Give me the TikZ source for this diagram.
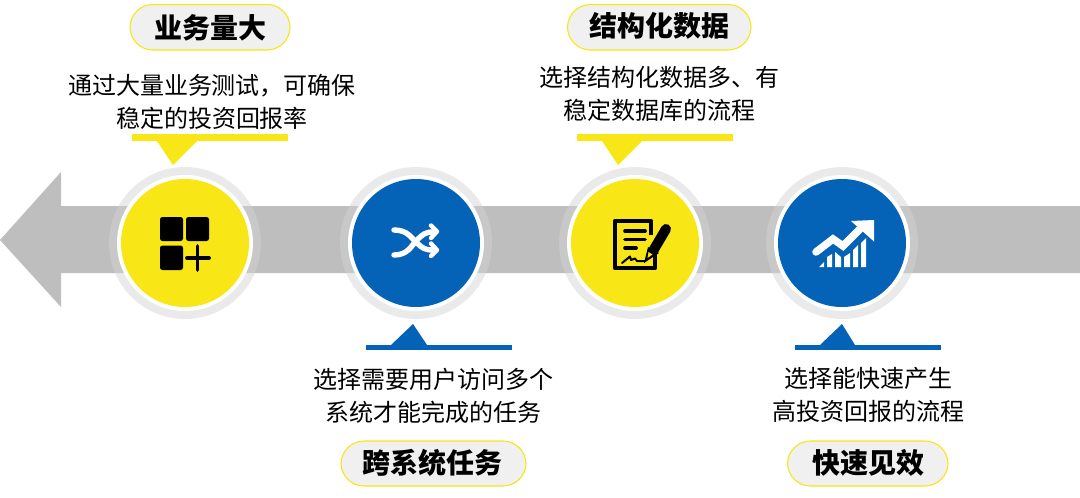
\documentclass[tikz,border=0pt]{standalone}
\usepackage{fontspec}
\setmainfont{Noto Sans CJK SC}
\usetikzlibrary{calc}
\definecolor{yel}{HTML}{F8E616}
\definecolor{blu}{HTML}{0563B7}
\definecolor{gry}{HTML}{BEBEBE}
\definecolor{rng}{HTML}{D4D4D4}
\definecolor{pil}{HTML}{F0F0F0}
\tikzset{
  x=1pt,y=-1pt,
  ringdisc/.style={circle,draw=none,fill=rng,fill opacity=0.48,minimum size=152pt,inner sep=0pt},
  whitedisc/.style={circle,draw=none,fill=white,minimum size=136pt,inner sep=0pt},
  yeldisc/.style={circle,draw=none,fill=yel,minimum size=128pt,inner sep=0pt},
  bludisc/.style={circle,draw=none,fill=blu,minimum size=128pt,inner sep=0pt},
  pill/.style={rounded corners=23pt,draw=yel,line width=1.1pt,fill=pil},
  titletext/.style={font=\fontsize{28}{30}\selectfont\bfseries,text=black,inner sep=0pt},
  bodytext/.style={font=\fontsize{24}{33}\selectfont,text=black,inner sep=0pt,align=center},
  wline/.style={draw=white,line width=5.4pt,line cap=round},
  whead/.style={draw=white,line width=4.4pt,line cap=round,line join=round},
  bline/.style={draw=black,line width=3.7pt,line cap=round}
}
\begin{document}
\begin{tikzpicture}
\useasboundingbox (0,0) rectangle (1080,498);
% big arrow
\fill[gry] (0,240) -- (61,172) -- (61,206) -- (1080,206) -- (1080,273) -- (61,273) -- (61,307) -- cycle;
% discs
\foreach \n/\cx/\st in {a/185/yeldisc,b/416/bludisc,c/635/yeldisc,d/842/bludisc}{
  \node[ringdisc] (r\n) at (\cx,243) {};
  \node[whitedisc] (w\n) at (\cx,243) {};
  \node[\st] (d\n) at (\cx,243) {};
}
% callouts
\fill[yel] (132,134) rectangle (288,141);
\fill[yel] (157,141) -- (197,141) -- (173,165) -- cycle;
\fill[yel] (577,134) rectangle (733,141);
\fill[yel] (602,141) -- (642,141) -- (618,165) -- cycle;
\fill[blu] (366,345) rectangle (512,349.5);
\fill[blu] (391,345) -- (427,345) -- (413,324) -- cycle;
\fill[blu] (795,345) rectangle (941,349.5);
\fill[blu] (820,345) -- (855,345) -- (842,324) -- cycle;
% pills
\draw[pill] (130,4.5) rectangle (290,50);
\draw[pill] (341,441) rectangle (526,486);
\draw[pill] (567.5,4.5) rectangle (751,50);
\draw[pill] (787.5,441) rectangle (948,486);
\node[titletext] (t1) at (210,27.5) {业务量大};
\node[titletext] (t2) at (432,462.5) {跨系统任务};
\node[titletext] (t3) at (659.5,26) {结构化数据};
\node[titletext] (t4) at (868,462.5) {快速见效};
% body text
\node[bodytext] (b1) at (212,102) {通过大量业务测试，可确保\\稳定的投资回报率};
\node[bodytext] (b2) at (433,396) {选择需要用户访问多个\\系统才能完成的任务};
\node[bodytext] (b3) at (659,94) {选择结构化数据多、有\\稳定数据库的流程};
\node[bodytext] (b4) at (868,395) {选择能快速产生\\高投资回报的流程};
% icon 1
\fill[black,rounded corners=2.5pt] (160,217) rectangle (183,241);
\fill[black,rounded corners=2.5pt] (186,217) rectangle (209,241);
\fill[black,rounded corners=2.5pt] (160,245.5) rectangle (183,270);
\draw[bline] (187,258) -- (209,258);
\draw[bline] (197.5,246) -- (197.5,270);
% icon 2
\draw[wline] (394,230) .. controls (408,230) and (411,238) .. (417,243) .. controls (422,248) and (425,250) .. (433,250);
\draw[wline] (394,255) .. controls (408,255) and (411,246) .. (417,240) .. controls (422,235) and (425,232) .. (433,232);
\draw[whead] (431,225.5) -- (437,231.5) -- (431,238);
\draw[whead] (431,243.5) -- (437,250) -- (431,256);
% icon 3
\draw[black,line width=4.2pt,line join=round] (651,235) -- (651,221) -- (615,221) -- (615,268) -- (655,268) -- (655,250);
\draw[bline] (625,231) -- (645,231);
\draw[bline] (625,239.5) -- (645,239.5);
\draw[bline] (625,248) -- (636,248);
\draw[black,line width=2pt,line cap=round,line join=round] (622,263) -- (630,256.5) -- (631,260) -- (635,258.5) -- (637,261) -- (645,261);
\draw[black,line width=10pt,line cap=round] (666,229) -- (653,251);
\fill[black] (648,247) -- (659,253) -- (644,263) -- cycle;
\fill[yel] (648.5,252) -- (652.5,254.5) -- (647.5,258) -- cycle;
% icon 4
\draw[white,line width=7.5pt,line cap=round,line join=miter] (816,252) -- (833,239) -- (843,246) -- (861,228);
\fill[white] (851,221) -- (874,220) -- (874,241.5) -- cycle;
\fill[white] (819,267) -- (824,262) -- (824,267) -- cycle;
\fill[white] (827,267) -- (827,257) -- (832,254) -- (832,267) -- cycle;
\fill[white] (835,267) -- (835,252) -- (841,257) -- (841,267) -- cycle;
\fill[white] (844,267) -- (844,257) -- (850,253) -- (850,267) -- cycle;
\fill[white] (853,267) -- (853,250) -- (858,245) -- (858,267) -- cycle;
\fill[white] (861,267) -- (861,243) -- (866,238) -- (866,267) -- cycle;
\end{tikzpicture}
\end{document}
